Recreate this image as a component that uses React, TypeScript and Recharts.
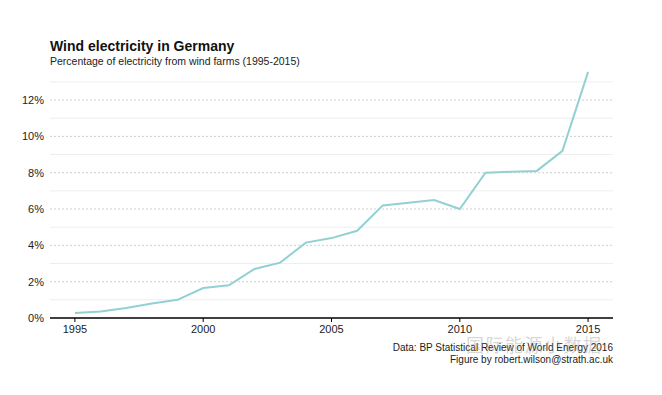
import React from 'react';
import { LineChart, Line, XAxis, YAxis, ReferenceLine } from 'recharts';

const years = [1995, 1996, 1997, 1998, 1999, 2000, 2001, 2002, 2003, 2004, 2005, 2006, 2007, 2008, 2009, 2010, 2011, 2012, 2013, 2014, 2015];
const windShare = [0.27, 0.36, 0.55, 0.8, 1.0, 1.65, 1.8, 2.7, 3.05, 4.15, 4.4, 4.8, 6.2, 6.35, 6.5, 6.0, 8.0, 8.05, 8.1, 9.2, 13.55];
const xTicks = [1995, 2000, 2005, 2010, 2015];
const yTicks = [0, 2, 4, 6, 8, 10, 12];
const minorLines = [1, 3, 5, 7, 9, 11, 13];

const data = years.map((year, i) => ({ year, share: windShare[i] }));

const font = '"Liberation Sans", Arial, Helvetica, sans-serif';

const App = () => {
  return (
    <div style={{ position: 'absolute', left: 0, top: 0, width: 662, height: 395, background: '#fff', fontFamily: font }}>
      <div style={{ position: 'absolute', left: 50, top: 38, fontSize: 14, fontWeight: 'bold', color: '#111' }}>
        Wind electricity in Germany
      </div>
      <div style={{ position: 'absolute', left: 50, top: 55, fontSize: 10.5, color: '#222' }}>
        Percentage of electricity from wind farms (1995-2015)
      </div>
      <LineChart width={662} height={395} data={data} margin={{ top: 71, right: 49, left: 10, bottom: 47 }}>
        {minorLines.map((v) => (
          <ReferenceLine key={'m' + v} y={v} stroke="#eeeeee" strokeWidth={1} />
        ))}
        {yTicks.filter((v) => v > 0).map((v) => (
          <ReferenceLine key={'g' + v} y={v} stroke="#d0d0d0" strokeDasharray="2 2" strokeWidth={1} />
        ))}
        <XAxis
          dataKey="year"
          type="number"
          domain={[1994.03, 2015.97]}
          ticks={xTicks}
          allowDataOverflow
          axisLine={{ stroke: '#000', strokeWidth: 1.5 }}
          tickLine={{ stroke: '#000' }}
          tickSize={4}
          tickMargin={3}
          height={30}
          tick={{ fill: '#222', fontSize: 11, fontFamily: font }}
        />
        <YAxis
          type="number"
          domain={[0, 13.6]}
          ticks={yTicks}
          allowDataOverflow
          axisLine={false}
          tickLine={false}
          tickSize={0}
          tickMargin={6}
          width={40}
          tickFormatter={(v: number) => v + '%'}
          tick={{ fill: '#222', fontSize: 11, fontFamily: font }}
        />
        <Line
          type="linear"
          dataKey="share"
          stroke="#93d0d2"
          strokeWidth={2}
          dot={false}
          isAnimationActive={false}
        />
      </LineChart>
      <div style={{ position: 'absolute', right: 49, top: 342, fontSize: 10, color: '#222', textAlign: 'right', lineHeight: '12px' }}>
        Data: BP Statistical Review of World Energy 2016
        <br />
        Figure by robert.wilson@strath.ac.uk
      </div>
      <div style={{ position: 'absolute', left: 466, top: 334, fontSize: 18, lineHeight: '20px', color: 'rgba(150,150,150,0.4)', fontFamily: '"Noto Sans CJK SC", sans-serif', letterSpacing: 1.5 }}>
        国际能源小数据
      </div>
    </div>
  );
};

export default App;
